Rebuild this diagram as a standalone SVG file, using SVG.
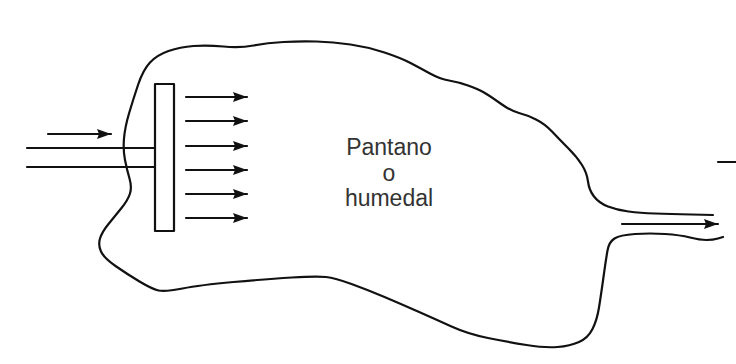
<svg xmlns="http://www.w3.org/2000/svg" width="736" height="364" viewBox="0 0 736 364">
<style>
.ln{fill:none;stroke:#111;stroke-width:2.2;stroke-linecap:round;stroke-linejoin:round}
.lbl{font-family:"Liberation Sans",Arial,sans-serif;font-size:23px;fill:#333;text-anchor:middle}
</style>
<defs>
<marker id="ah" viewBox="0 0 14 10" refX="14" refY="5" markerWidth="14" markerHeight="10" markerUnits="userSpaceOnUse" orient="auto">
<path d="M0,0 L14,5 L0,10 L2,5 Z" fill="#111"/>
</marker>
</defs>
<rect width="736" height="364" fill="#fff"/>
<g id="wetland">
<path class="ln" d="M713,215 L691.5,214.5 Q670,214 655,213.5 Q640,213 628.5,211.5 Q617,210 608,206.5 Q599,203 594,196.5 Q589,190 588,181.5 Q587,173 582,165 Q577,157 568.5,148.5 Q560,140 552.5,132 Q545,124 536,119.5 Q527,115 519,113 Q511,111 500.5,103.5 Q490,96 484,92.5 Q478,89 468,85.5 Q458,82 449,80.5 Q440,79 430,73.5 Q420,68 410.5,63 Q401,58 384.5,52.5 Q368,47 350.5,44.5 Q333,42 316.5,41.5 Q300,41 283.5,42 Q267,43 253.5,45.5 Q240,48 223.5,46.5 Q207,45 193.5,46 Q180,47 168.5,51 Q157,55 150,62.5 Q143,70 138,85 Q133,100 129,113.5 Q125,127 124,138.5 Q123,150 125,160 Q127,170 129.5,178.5 Q132,187 130,193.5 Q128,200 121.5,208 Q115,216 108.5,224 Q102,232 100,238.5 Q98,245 101,251.5 Q104,258 115.5,266 Q127,274 139.5,281.5 Q152,289 158.5,290.5 Q165,292 182.5,288.5 Q200,285 233.5,282 Q267,279 292,277.5 Q317,276 326,277 Q335,278 351.5,284 Q368,290 384.5,297 Q401,304 418,311.5 Q435,319 451.5,326.5 Q468,334 488,338 Q508,342 526.5,345 Q545,348 557.5,347 Q570,346 579,342 Q588,338 592.5,329 Q597,320 599,307.5 Q601,295 603.5,277 Q606,259 607.5,250.5 Q609,242 614.5,238.5 Q620,235 635,234 Q650,233 665,234 Q680,235 690,237.5 Q700,240 706.5,240 Q713,240 718,238.5 L723,237"/>
<text class="lbl" x="389" y="155">Pantano</text>
<text class="lbl" x="389" y="181">o</text>
<text class="lbl" x="389" y="206">humedal</text>
</g>
<g id="distributor">
<rect class="ln" x="155" y="84" width="19" height="147"/>
</g>
<g id="connectors">
<line class="ln" x1="27" y1="148" x2="155" y2="148"/>
<line class="ln" x1="27" y1="167" x2="155" y2="167"/>
<line class="ln" x1="48" y1="134" x2="111" y2="134" marker-end="url(#ah)"/>
<line class="ln" x1="186" y1="97" x2="247" y2="97" marker-end="url(#ah)"/>
<line class="ln" x1="186" y1="121" x2="247" y2="121" marker-end="url(#ah)"/>
<line class="ln" x1="186" y1="146" x2="247" y2="146" marker-end="url(#ah)"/>
<line class="ln" x1="186" y1="170" x2="247" y2="170" marker-end="url(#ah)"/>
<line class="ln" x1="186" y1="194" x2="247" y2="194" marker-end="url(#ah)"/>
<line class="ln" x1="186" y1="218" x2="247" y2="218" marker-end="url(#ah)"/>
<line class="ln" x1="622" y1="224" x2="718" y2="224" marker-end="url(#ah)"/>
<line class="ln" x1="718" y1="162" x2="736" y2="162"/>
</g>
</svg>
